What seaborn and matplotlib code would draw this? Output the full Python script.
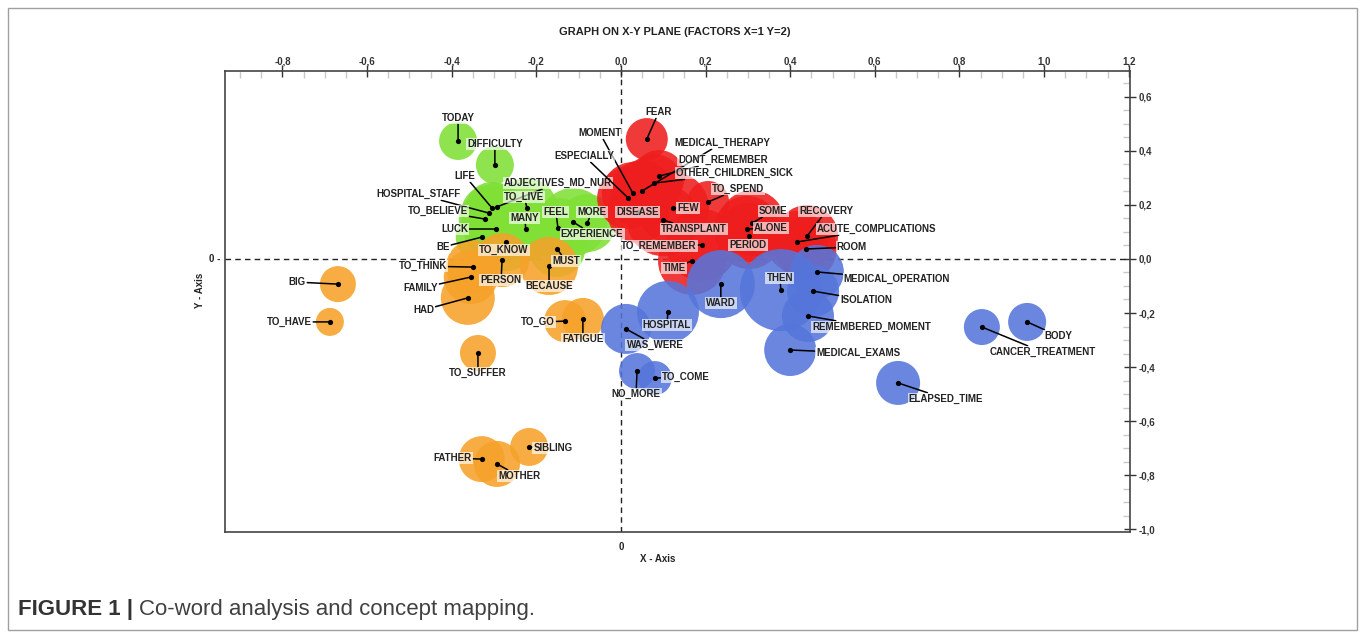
import numpy as np
import pandas as pd
import seaborn as sns
import matplotlib
matplotlib.use('Agg')
import matplotlib.pyplot as plt
from matplotlib.patches import Rectangle

# Cluster data (factor 1 = x, factor 2 = y, weight = bubble radius)
green_words = ["TODAY", "DIFFICULTY", "LIFE", "ADJECTIVES_MD_NUR", "HOSPITAL_STAFF", "TO_BELIEVE",
               "LUCK", "BE", "TO_KNOW", "TO_LIVE", "MANY", "FEEL", "MORE", "EXPERIENCE", "MUST"]
green_x = [-0.385, -0.298, -0.305, -0.293, -0.312, -0.322, -0.296, -0.329, -0.272, -0.222, -0.225,
           -0.149, -0.080, -0.113, -0.151]
green_y = [0.437, 0.348, 0.189, 0.193, 0.170, 0.148, 0.111, 0.081, 0.063, 0.189, 0.111,
           0.115, 0.133, 0.137, 0.037]
green_w = [19, 19, 26, 24, 28, 26, 32, 26, 29, 30, 32, 30, 29, 34, 28]

orange_words = ["BECAUSE", "PERSON", "TO_THINK", "FAMILY", "HAD", "BIG", "TO_HAVE", "TO_SUFFER",
                "TO_GO", "FATIGUE", "FATHER", "MOTHER", "SIBLING"]
orange_x = [-0.170, -0.281, -0.350, -0.355, -0.362, -0.669, -0.688, -0.338, -0.132, -0.090,
            -0.329, -0.293, -0.217]
orange_y = [-0.026, -0.004, -0.030, -0.067, -0.144, -0.093, -0.233, -0.348, -0.230, -0.222,
            -0.741, -0.759, -0.696]
orange_w = [29, 27, 27, 27, 27, 18, 14, 18, 21, 21, 23, 23, 19]

red_words = ["FEAR", "MOMENT", "ESPECIALLY", "MEDICAL_THERAPY", "DONT_REMEMBER", "OTHER_CHILDREN_SICK",
             "DISEASE", "FEW", "TRANSPLANT", "TO_SPEND", "SOME", "ALONE", "PERIOD", "TO_REMEMBER",
             "TIME", "RECOVERY", "ACUTE_COMPLICATIONS", "ROOM"]
red_x = [0.061, 0.028, 0.017, 0.050, 0.090, 0.078, 0.040, 0.123, 0.099, 0.206, 0.310, 0.298,
         0.303, 0.191, 0.168, 0.440, 0.416, 0.437]
red_y = [0.444, 0.244, 0.226, 0.252, 0.307, 0.281, 0.174, 0.189, 0.144, 0.211, 0.133, 0.111,
         0.085, 0.052, -0.007, 0.085, 0.063, 0.037]
red_w = [21, 31, 31, 31, 26, 29, 31, 36, 36, 21, 33, 33, 33, 36, 34, 31, 31, 31]

blue_words = ["MEDICAL_OPERATION", "ISOLATION", "THEN", "WARD", "HOSPITAL", "WAS_WERE", "NO_MORE",
              "TO_COME", "REMEMBERED_MOMENT", "MEDICAL_EXAMS", "ELAPSED_TIME", "CANCER_TREATMENT", "BODY"]
blue_x = [0.463, 0.454, 0.378, 0.236, 0.111, 0.012, 0.038, 0.080, 0.442, 0.400, 0.655, 0.853, 0.960]
blue_y = [-0.048, -0.119, -0.115, -0.093, -0.196, -0.259, -0.415, -0.441, -0.211, -0.337,
          -0.459, -0.252, -0.233]
blue_w = [27, 26, 41, 34, 31, 25, 18, 17, 26, 26, 22, 18, 19]

x_ticks = [-0.8, -0.6, -0.4, -0.2, 0.0, 0.2, 0.4, 0.6, 0.8, 1.0, 1.2]
y_ticks = [0.6, 0.4, 0.2, 0.0, -0.2, -0.4, -0.6, -0.8, -1.0]

# label placement (pixels from the dot, image y downwards)
label_off = {
    "TODAY": (0, -23), "DIFFICULTY": (0, -21), "LIFE": (-27, -32), "ADJECTIVES_MD_NUR": (61, -24),
    "HOSPITAL_STAFF": (-71, -19), "TO_BELIEVE": (-47, -8), "LUCK": (-41, 0), "BE": (-39, 10),
    "TO_KNOW": (-2, 8), "TO_LIVE": (-3, -11), "MANY": (-1, -11), "FEEL": (-2, -16), "MORE": (5, -11),
    "EXPERIENCE": (19, 12), "MUST": (9, 12),
    "BECAUSE": (0, 20), "PERSON": (-1, 20), "TO_THINK": (-50, -1), "FAMILY": (-50, 11), "HAD": (-44, 12),
    "BIG": (-41, -2), "TO_HAVE": (-41, 0), "TO_SUFFER": (0, 20), "TO_GO": (-27, 1), "FATIGUE": (0, 20),
    "FATHER": (-29, -1), "MOTHER": (22, 12), "SIBLING": (24, 1),
    "FEAR": (12, -27), "MOMENT": (-33, -60), "ESPECIALLY": (-44, -42), "MEDICAL_THERAPY": (80, -48),
    "DONT_REMEMBER": (64, -16), "OTHER_CHILDREN_SICK": (81, -10), "DISEASE": (0, 0), "FEW": (15, 0),
    "TRANSPLANT": (31, 9), "TO_SPEND": (30, -13), "SOME": (21, -12), "ALONE": (24, -1), "PERIOD": (-1, 9),
    "TO_REMEMBER": (-43, 1), "TIME": (-18, 7), "RECOVERY": (19, -25), "ACUTE_COMPLICATIONS": (80, -13),
    "ROOM": (46, -2),
    "MEDICAL_OPERATION": (80, 7), "ISOLATION": (53, 9), "THEN": (-1, -12), "WARD": (0, 19),
    "HOSPITAL": (-1, 13), "WAS_WERE": (29, 16), "NO_MORE": (-1, 23), "TO_COME": (31, -1),
    "REMEMBERED_MOMENT": (64, 11), "MEDICAL_EXAMS": (68, 3), "ELAPSED_TIME": (48, 16),
    "CANCER_TREATMENT": (61, 25), "BODY": (31, 14),
}

palette = {"green": "#80e036", "orange": "#f6a22a", "red": "#ef1e1e", "blue": "#5575db"}

frames = []
for name, words, xs, ys, ws in [("green", green_words, green_x, green_y, green_w),
                                ("orange", orange_words, orange_x, orange_y, orange_w),
                                ("red", red_words, red_x, red_y, red_w),
                                ("blue", blue_words, blue_x, blue_y, blue_w)]:
    frames.append(pd.DataFrame({"word": words, "x": xs, "y": ys, "weight": ws, "cluster": name}))
df = pd.concat(frames, ignore_index=True)
df["area"] = df["weight"] ** 2

sns.set_style("white")
plt.rcParams['font.family'] = ['Liberation Sans', 'DejaVu Sans']

fig = plt.figure(figsize=(13.65, 6.37), dpi=100)
ax = fig.add_axes([0.1648, 0.1648, 0.6630, 0.7237])

# bubble radius in px -> marker area in pt^2
k = 1.44 ** 2
amin, amax = df["area"].min(), df["area"].max()
sns.scatterplot(data=df, x="x", y="y", hue="cluster", palette=palette, size="area",
                sizes=(k * amin, k * amax), size_norm=(amin, amax), alpha=0.88,
                linewidth=0, legend=False, ax=ax, zorder=2)
sns.scatterplot(data=df, x="x", y="y", color="black", s=14, linewidth=0,
                legend=False, ax=ax, zorder=4)

for _, row in df.iterrows():
    dx, dy = label_off[row["word"]]
    arrow = None
    if dx != 0 or dy != 0:
        arrow = dict(arrowstyle="-", color="black", lw=1.1, shrinkA=0, shrinkB=0)
    ax.annotate(row["word"], xy=(row["x"], row["y"]), xytext=(dx, -dy), textcoords="offset pixels",
                ha="center", va="center", fontsize=7, fontweight="bold", color="#222222",
                bbox=dict(boxstyle="square,pad=0.12", fc="white", ec="none", alpha=0.65),
                arrowprops=arrow, zorder=5)

ax.axhline(0, color="#222222", ls=(0, (4, 3)), lw=1, zorder=1)
ax.axvline(0, color="#222222", ls=(0, (4, 3)), lw=1, zorder=1)

ax.set_xlim(-0.936, 1.203)
ax.set_ylim(-1.011, 0.696)
ax.xaxis.tick_top()
ax.yaxis.tick_right()
ax.set_xticks(x_ticks)
ax.set_xticklabels([f"{v:.1f}".replace(".", ",") for v in x_ticks], fontweight="bold")
ax.set_yticks(y_ticks)
ax.set_yticklabels([f"{v:.1f}".replace(".", ",") for v in y_ticks], fontweight="bold")
ax.set_xticks(np.arange(-0.9, 1.2, 0.05), minor=True)
ax.set_yticks(np.arange(-1.0, 0.7, 0.05), minor=True)
ax.tick_params(which="major", direction="inout", length=8, width=1, color="#333333",
               labelsize=7, pad=2, labelcolor="#333333")
ax.tick_params(axis="x", which="major", pad=-1)
ax.tick_params(which="minor", direction="in", length=5, width=1, color="#c8c8c8")
ax.set_xlabel("")
ax.set_ylabel("")
for s in ax.spines.values():
    s.set_color("#444444")
    s.set_linewidth(1.2)

ax.annotate("0", xy=(0, 0), xycoords=("data", "axes fraction"), xytext=(0, -15),
            textcoords="offset pixels", ha="center", va="center", fontsize=7, fontweight="bold")
ax.annotate("0 -", xy=(0, 0), xycoords=("axes fraction", "data"), xytext=(-10, 0),
            textcoords="offset pixels", ha="center", va="center", fontsize=7, fontweight="bold")

fig.text(675 / 1365, 1 - 32 / 637, "GRAPH ON X-Y PLANE (FACTORS X=1 Y=2)", ha="center", va="center",
         fontsize=8, fontweight="bold", color="#222222")
fig.text(658 / 1365, 1 - 559 / 637, "X - Axis", ha="center", va="center", fontsize=7,
         fontweight="bold", color="#222222")
fig.text(200 / 1365, 1 - 290 / 637, "Y - Axis", ha="center", va="center", rotation=90,
         fontsize=7, fontweight="bold", color="#222222")

# outer frame and caption
fig.patches.append(Rectangle((8 / 1365, 7 / 637), 1349 / 1365, 622 / 637, transform=fig.transFigure,
                             fill=False, ec="#a0a0a0", lw=1))
t1 = fig.text(18 / 1365, 1 - 610 / 637, "FIGURE 1 |", ha="left", va="center", fontsize=16,
              fontweight="bold", color="#333333")
ax.annotate("Co-word analysis and concept mapping.", xy=(1, 0.5), xycoords=t1, xytext=(4, 0),
            textcoords="offset points", ha="left", va="center", fontsize=16, color="#404040",
            annotation_clip=False)

fig.savefig("out.png", dpi=100)
